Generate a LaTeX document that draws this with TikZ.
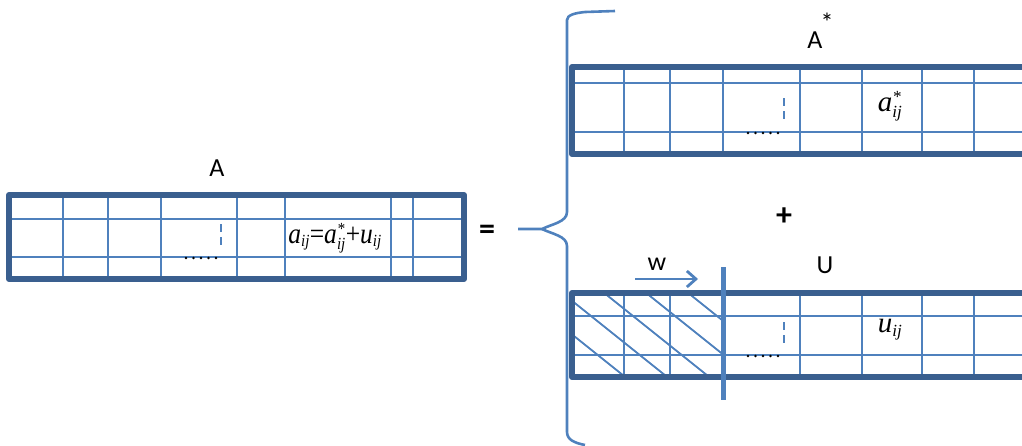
\documentclass[tikz,border=0pt]{standalone}
\usepackage{fontspec}
\setmainfont{Carlito}
\newfontfamily\tnrfont{Liberation Serif}
\newcommand\tmi[1]{\mbox{\tnrfont\itshape #1}}
\newcommand\tms[1]{\mbox{\tnrfont\itshape\fontsize{17}{17}\selectfont #1}}
\newcommand\tmr[1]{\mbox{\tnrfont #1}}
\usetikzlibrary{arrows.meta}
\definecolor{gridblue}{HTML}{4F81BD}
\definecolor{darkblue}{HTML}{3A5F8F}
\begin{document}
\begin{tikzpicture}[x=1pt,y=-1pt,
  gridline/.style={gridblue,line width=2.8pt},
  border/.style={darkblue,line width=6pt,line join=round},
  dotrow/.style={black,line width=2.8pt,line cap=round,dash pattern=on 0pt off 7.5pt},
  dashv/.style={gridblue,line width=2.8pt,dash pattern=on 8pt off 5pt},
  hatch/.style={gridblue,line width=1.8pt},
  lbl/.style={font=\fontsize{26}{28}\selectfont,inner sep=0pt},
  formula/.style={font=\fontsize{29}{31}\selectfont,inner sep=0pt}]
\useasboundingbox (0,0) rectangle (1022,445);

% ---------- Matrix A ----------
\foreach \y in {219,257} \draw[gridline] (9,\y) -- (464,\y);
\foreach \x in {63,108,161,237,285,391,413} \draw[gridline] (\x,195) -- (\x,279);
\draw[border] (9,195) rectangle (464,279);
\draw[dashv] (221,224) -- (221,246);
\draw[dotrow] (186,258) -- (219,258);
\node[lbl] (labA) at (217,168) {A};
\node[formula] (fA) at (335,238) {\scalebox{0.88}[1]{$\tmi{a}_{\tms{ij}}\tmr{=}\tmi{a}^{\tms{*}}_{\tms{ij}}\tmr{+}\tmi{u}_{\tms{ij}}$}};

% ---------- equals and brace ----------
\node[font=\bfseries\fontsize{32}{34}\selectfont,inner sep=0pt] (eq) at (487,232) {=};
\coordinate (tip) at (518,229);
\draw[gridblue,line width=2.6pt]
  (615,11) -- (585,12) .. controls (575,13) and (567,15) .. (567,20)
  -- (567,212) .. controls (567,222) and (552,224) .. (542,229) -- (tip);
\draw[gridblue,line width=2.6pt]
  (542,229) .. controls (552,234) and (567,236) .. (567,246)
  -- (567,432) .. controls (567,440) and (575,443) .. (585,445);

\node[font=\bfseries\fontsize{32}{34}\selectfont,inner sep=0pt] (plus) at (784,217) {+};

% ---------- Matrix A* ----------
\foreach \y in {83,132} \draw[gridline] (572,\y) -- (1022,\y);
\foreach \x in {624,670,723,800,862,922,974} \draw[gridline] (\x,67) -- (\x,154);
\draw[border] (1024,67) -- (572,67) -- (572,154) -- (1024,154);
\draw[dashv] (784,98) -- (784,120);
\draw[dotrow] (748,133) -- (781,133);
\node[lbl] (labAs) at (815,40) {A};
\node[lbl] (starAs) at (827,22) {*};
\node[formula] (fAs) at (890,106) {$\tmi{a}^{\tms{*}}_{\tms{ij}}$};

% ---------- Matrix U ----------
\begin{scope}
\clip (572,293) rectangle (723,377);
\foreach \x in {519,561,603,645,687} \draw[hatch] (\x,292) -- ++(130,104);
\end{scope}
\foreach \y in {316,355} \draw[gridline] (572,\y) -- (1022,\y);
\foreach \x in {624,670,800,862,922,974} \draw[gridline] (\x,293) -- (\x,377);
\draw[border] (1024,293) -- (572,293) -- (572,377) -- (1024,377);
\draw[gridblue,line width=5pt] (723,267) -- (723,400);
\draw[dashv] (784,322) -- (784,344);
\draw[dotrow] (748,356) -- (781,356);
\node[lbl] (labU) at (825,265) {U};
\node[formula] (fU) at (890,330) {$\tmi{u}_{\tms{ij}}$};

% ---------- window arrow ----------
\node[lbl] (labw) at (657,264) {w};
\coordinate (wa) at (635,279);
\coordinate (wb) at (698,279);
\draw[gridblue,line width=2.8pt,-{Straight Barb[length=9pt,width=16pt]}] (wa) -- (wb);
\end{tikzpicture}
\end{document}
